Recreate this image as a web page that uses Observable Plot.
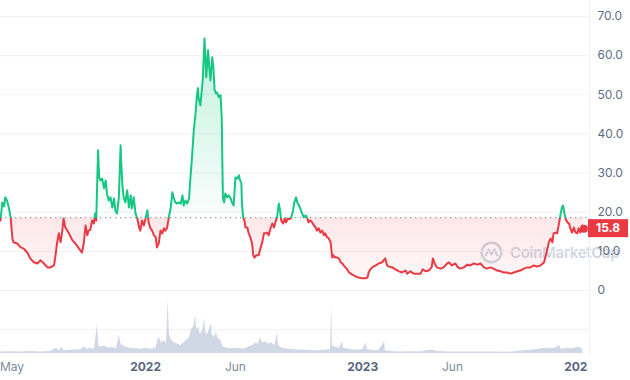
<!DOCTYPE html>
<html><head><meta charset="utf-8">
<script src="https://cdn.jsdelivr.net/npm/d3@7"></script>
<script src="https://cdn.jsdelivr.net/npm/@observablehq/plot@0.6"></script>
<style>
html,body{margin:0;padding:0;background:#fff;}
#wrap{position:relative;width:630px;height:380px;overflow:hidden;font-family:Inter,sans-serif;background:#fff;}
#wrap svg.layer{position:absolute;left:0;top:0;}
#wm{position:absolute;left:480px;top:241px;display:flex;align-items:center;color:#cfd6e2;font:600 15px Inter,sans-serif;letter-spacing:-0.3px;}
#wm span{margin-left:7px;}
</style></head><body>
<div id="wrap">
  <div id="wm"><svg width="23" height="23" viewBox="0 0 23 23"><circle cx="11.5" cy="11.5" r="9.8" fill="none" stroke="#cfd6e2" stroke-width="2.6"/><path d="M5.5,15 L8.5,8.5 L11.5,13.5 L14.5,8.5 L17.5,15" fill="none" stroke="#cfd6e2" stroke-width="2.2" stroke-linejoin="round"/></svg><span>CoinMarketCap</span></div>
</div>
<script>
// ---- data ----
const startDate = "2021-05-02";
const endDate = "2024-01-14";
const baselinePrice = 18.6;
const lastPriceLabel = "15.8";
// [days since startDate, price]
const priceSeries = [[0,17.9],[3,22.5],[6,21.5],[8,23.8],[11,23],[14,21.2],[17,18.7],[20,13.3],[22,12.3],[28,12],[34,11],[39,10.7],[45,9.7],[50,8.2],[56,7.2],[62,6.9],[67,7.7],[73,6.9],[79,5.9],[84,5.9],[90,6.4],[92,8.4],[95,12],[98,14.6],[101,12.3],[104,15.3],[106,18.4],[109,16.1],[115,14.6],[121,12.8],[126,12],[132,10.7],[137,9.7],[140,12],[143,16.6],[146,14.1],[148,15.3],[151,15.5],[154,17.9],[157,17.1],[159,19.7],[161,17.9],[164,35.8],[166,28.9],[168,28.1],[171,28.6],[174,26.1],[177,28.1],[179,24.8],[182,23],[185,23.8],[188,21.2],[191,23.5],[193,20.5],[196,19.7],[199,23.8],[202,37.1],[203,32.5],[205,26.9],[207,23.8],[210,22.5],[213,25.6],[216,21.2],[219,24.3],[221,21],[224,23.8],[227,19.7],[230,18.4],[233,16.1],[235,15.3],[238,17.9],[241,16.6],[244,18.4],[247,20.5],[249,17.4],[252,15.9],[255,15.3],[258,14.1],[261,13.6],[263,11],[266,12],[269,15.3],[272,14.6],[275,15.9],[277,15.3],[280,15.9],[283,18.7],[286,21],[289,25.1],[291,23.8],[294,22.5],[297,22.2],[300,22.5],[303,22.2],[306,24.3],[308,21.7],[311,23],[314,22.2],[317,23.5],[319,28.1],[322,34],[325,40.9],[328,45.3],[330,49.4],[332,51.7],[333,49.4],[336,47.3],[338,50.4],[340,53.7],[342,60.6],[343,64.4],[345,58],[346,54.5],[349,61.4],[351,57],[353,53.7],[356,59.6],[358,57],[360,51.2],[362,50.4],[364,50.6],[367,49.4],[370,49.9],[372,44.2],[373,33.2],[374,23.8],[376,22.5],[378,24.8],[381,23.8],[384,24.3],[387,23.5],[390,22.2],[392,21.7],[395,28.9],[398,28.6],[401,29.4],[402,28.6],[405,27.4],[406,22.2],[408,18.7],[410,17.9],[412,16.1],[415,16.1],[417,14.8],[420,13.6],[423,12],[425,9],[427,8.4],[430,9],[434,9],[437,10.7],[440,12.3],[443,14.6],[446,14.6],[448,14.8],[451,14.1],[454,15.9],[457,17.1],[460,16.1],[462,17.4],[465,18.7],[468,22.2],[470,20.5],[472,17.9],[475,17.1],[478,18.4],[480,17.4],[483,18.4],[486,18.2],[489,18.7],[492,20.5],[494,22.5],[497,23.8],[499,22.5],[502,21.7],[504,21],[507,19.7],[510,18.7],[513,19.2],[516,18.4],[518,17.4],[521,17.9],[524,17.4],[527,16.6],[530,16.1],[532,15.3],[535,15.9],[538,14.8],[541,15.3],[544,14.1],[546,14.6],[549,13.6],[552,13.3],[555,12.3],[557,9.5],[558,8.4],[560,9],[563,8.4],[566,8.4],[569,8.2],[572,7.2],[575,6.9],[577,6.4],[580,5.9],[583,5.4],[586,4.6],[591,4.1],[597,3.6],[602,3.3],[608,3.1],[614,3.1],[617,3.3],[619,4.6],[622,5.4],[625,5.9],[631,6.4],[636,6.9],[642,7.2],[644,7.7],[647,8.2],[650,6.4],[653,6.1],[659,5.9],[664,5.4],[670,4.9],[675,4.6],[681,5.1],[684,4.3],[689,4.9],[695,4.3],[701,4.3],[706,4.3],[710,5.4],[715,4.9],[720,5.1],[725,5.9],[727,8.2],[730,6.9],[734,5.9],[740,5.6],[745,5.9],[751,6.9],[754,7.2],[759,6.4],[765,6.9],[768,6.1],[773,5.6],[779,5.9],[785,6.6],[790,6.4],[796,6.9],[802,6.6],[807,6.9],[813,5.9],[818,5.6],[824,5.9],[829,5.6],[835,5.1],[841,4.9],[846,4.6],[852,4.6],[858,4.3],[863,4.6],[869,4.9],[874,5.1],[880,5.6],[886,5.9],[891,5.9],[897,6.4],[902,6.1],[908,6.4],[914,7.2],[916,8.4],[919,10.2],[922,12.3],[925,13.3],[928,12.3],[930,14.6],[933,14.8],[936,14.6],[939,17.1],[942,19.7],[944,21.2],[946,21.7],[948,19.9],[950,18.4],[953,17.4],[956,17.1],[958,15.9],[961,14.8],[964,16.1],[967,14.8],[970,14.6],[972,15.9],[975,14.8],[978,16.6],[981,15.8]];
// [days since startDate, relative volume]
const volumeSeries = [[0,3],[17,3.5],[34,3],[50,4],[67,3],[84,4],[94,10],[98,5],[104,12],[106,5],[118,6],[135,7],[141,13],[145,8],[151,10],[158,8],[163,55],[165,20],[166,12],[175,14],[182,10],[188,12],[195,9],[200,35],[202,20],[205,15],[212,12],[219,10],[227,9],[235,8],[244,10],[252,8],[261,10],[264,22],[267,30],[271,20],[276,25],[279,18],[282,100],[284,35],[288,25],[293,20],[298,18],[303,15],[308,20],[313,25],[318,30],[321,45],[325,50],[328,73],[330,45],[333,50],[336,35],[340,45],[343,66],[345,40],[348,35],[351,45],[355,57],[356,35],[360,30],[363,40],[365,30],[370,25],[375,12],[382,10],[390,9],[400,10],[409,8],[417,12],[424,15],[429,20],[434,18],[437,30],[441,20],[446,22],[451,18],[456,20],[461,15],[466,39],[467,15],[474,10],[484,8],[496,7],[513,6],[530,5],[546,6],[555,8],[557,94],[558,15],[563,12],[570,10],[575,22],[577,10],[585,8],[597,6],[609,7],[615,20],[617,7],[625,6],[636,5],[646,22],[647,5],[659,4],[673,3],[689,3.5],[706,3],[716,5],[726,6],[736,4],[757,3],[790,3],[824,3],[858,2.5],[878,5],[891,6],[905,8],[916,10],[925,9],[933,10],[940,15],[943,8],[952,10],[962,9],[972,12],[979,8]];
const yTickValues = [0,10,20,30,40,50,60,70];
const gridValues = [-10,0,10,20,30,40,50,60,70];
const firstTick = [["2021-05-01","May"]];
const monthTicks = [["2022-06-01","Jun"],["2023-06-01","Jun"]];
const yearTicks = [["2022-01-01","2022"],["2023-01-01","2023"],["2024-01-01","2024"]];

// ---- setup ----
const green = "#16c784", red = "#ea3943";
const parse = d3.utcParse("%Y-%m-%d");
const t0 = parse(startDate);
const prices = priceSeries.map(([d, v]) => ({date: d3.utcDay.offset(t0, d), price: v}));
const vols = volumeSeries.map(([d, v]) => ({date: d3.utcDay.offset(t0, d), vol: v}));
const last = prices[prices.length - 1];
const W = 630, H = 380, frameRight = 589;
const xCfg = {type: "utc", domain: [t0, parse(endDate)], range: [0, 587], axis: null};
const yDomain = [0, 70], yRange = [290, 16];
const yPx = d3.scaleLinear(yDomain, yRange);
const ticksData = a => a.map(([d, l]) => ({date: parse(d), label: l}));

const main = Plot.plot({
  width: W, height: H, marginLeft: 0, marginRight: W - frameRight, marginTop: 0, marginBottom: 24,
  x: xCfg,
  y: {domain: yDomain, range: yRange, axis: null},
  style: {background: "transparent", fontFamily: "Inter, sans-serif", fontSize: "12px", overflow: "visible"},
  marks: [
    Plot.ruleY(gridValues, {stroke: "#eff1f4", strokeWidth: 1}),
    Plot.areaY(prices, {x: "date", y1: () => baselinePrice, y2: "price", fill: "url(#fillGrad)"}),
    Plot.ruleY([baselinePrice], {stroke: "#9aa0a8", strokeWidth: 1.3, strokeDasharray: "1.3,3.7"}),
    Plot.lineY(prices, {x: "date", y: "price", stroke: "url(#strokeGrad)", strokeWidth: 2, strokeLinejoin: "round"}),
    Plot.dot([last], {x: "date", y: "price", r: 4, fill: red}),
    Plot.text(yTickValues, {y: d => d, text: d => d === 0 ? "0" : d.toFixed(1), frameAnchor: "right", textAnchor: "start", dx: 8, fill: "#616e85", fontSize: 12}),
    Plot.text(ticksData(firstTick), {x: "date", text: "label", frameAnchor: "bottom", dy: 14, textAnchor: "start", fill: "#808a9d", fontSize: 12}),
    Plot.text(ticksData(monthTicks), {x: "date", text: "label", frameAnchor: "bottom", dy: 14, fill: "#808a9d", fontSize: 12}),
    Plot.text(ticksData(yearTicks), {x: "date", text: "label", frameAnchor: "bottom", dy: 14, fill: "#58667e", fontSize: 12, fontWeight: "bold"})
  ]
});
main.classList.add("layer");

const vol = Plot.plot({
  width: W, height: H, marginLeft: 0, marginRight: W - frameRight, marginTop: 0, marginBottom: 24,
  x: xCfg,
  y: {domain: [0, 100], range: [353, 300], axis: null},
  style: {background: "transparent", overflow: "visible"},
  marks: [
    Plot.areaY(vols, {x: "date", y: "vol", fill: "#d1d8e5"})
  ]
});
vol.classList.add("layer");

// gradients, frame edge, price tag
const yB = yPx(baselinePrice);
const s = d3.select(main);
const defs = s.insert("defs", ":first-child");
const sg = defs.append("linearGradient").attr("id", "strokeGrad").attr("gradientUnits", "userSpaceOnUse")
  .attr("x1", 0).attr("x2", 0).attr("y1", yB - 0.5).attr("y2", yB + 0.5);
sg.append("stop").attr("offset", 0.5).attr("stop-color", green);
sg.append("stop").attr("offset", 0.5).attr("stop-color", red);
const yTopPx = yPx(yDomain[1]), yBotPx = yPx(yDomain[0]);
const bf = (yB - yTopPx) / (yBotPx - yTopPx);
const fg = defs.append("linearGradient").attr("id", "fillGrad").attr("gradientUnits", "userSpaceOnUse")
  .attr("x1", 0).attr("x2", 0).attr("y1", yTopPx).attr("y2", yBotPx);
fg.append("stop").attr("offset", 0).attr("stop-color", green).attr("stop-opacity", 0.3);
fg.append("stop").attr("offset", bf).attr("stop-color", green).attr("stop-opacity", 0.02);
fg.append("stop").attr("offset", bf).attr("stop-color", red).attr("stop-opacity", 0.12);
fg.append("stop").attr("offset", 1).attr("stop-color", red).attr("stop-opacity", 0.03);
const wrap = document.getElementById("wrap");
wrap.appendChild(main);
wrap.appendChild(vol);

// clip the x labels at the plot's right edge (as the reference does), in screen space
const clipW = frameRight - 1;
const yearLabels = new Set(yearTicks.map(t => t[1]));
s.selectAll("text").filter(function() { return yearLabels.has(this.textContent); }).each(function() {
  const g = this.parentNode;
  if (g.getAttribute("clip-path")) return;
  const ctm = g.getCTM ? g.getCTM() : null;
  const ox = ctm ? ctm.e : 0, oy = ctm ? ctm.f : 0;
  const id = "clipR" + Math.random().toString(36).slice(2, 8);
  defs.append("clipPath").attr("id", id).append("rect")
    .attr("x", -20 - ox).attr("y", -oy).attr("width", clipW + 20).attr("height", H);
  g.setAttribute("clip-path", `url(#${id})`);
});

s.insert("line", "defs + *").attr("x1", frameRight + 0.5).attr("x2", frameRight + 0.5).attr("y1", 0).attr("y2", 356).attr("stroke", "#eff1f4");
const ly = yPx(last.price);
s.append("rect").attr("x", 588).attr("y", ly - 9).attr("width", 40).attr("height", 18).attr("fill", red);
s.append("text").attr("x", 608).attr("y", ly).attr("dy", "0.35em").attr("text-anchor", "middle")
  .attr("fill", "#fff").attr("font-weight", "bold").attr("font-size", 12).attr("font-family", "Inter, sans-serif").text(lastPriceLabel);
</script>
</body></html>
